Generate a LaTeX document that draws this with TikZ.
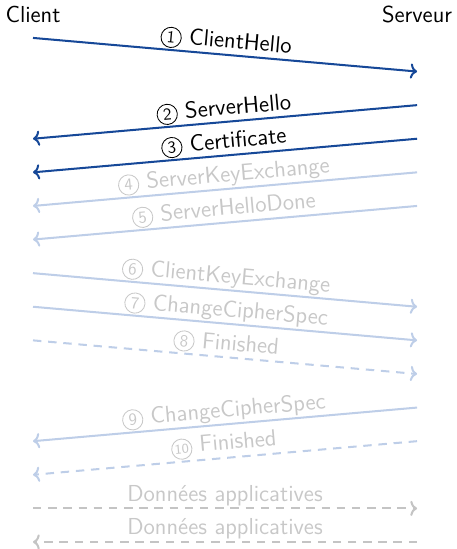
\documentclass[tikz,border=0pt]{standalone}
\usepackage{fontspec}
\usetikzlibrary{arrows.meta}
\renewcommand{\familydefault}{\sfdefault}
\definecolor{msgdark}{RGB}{22,72,152}
\definecolor{msglight}{RGB}{190,206,232}
\definecolor{txtlight}{RGB}{200,200,200}
\definecolor{datagray}{RGB}{196,196,196}
% step number in a thin circle, drawn in the current text colour
\newcommand{\circnum}[1]{\tikz[baseline=(num.base)]\node[circle,draw=.,line width=0.5pt,
  minimum size=12pt,inner sep=0pt,font=\sffamily\fontsize{10}{11}\selectfont] (num) {#1};}
\tikzset{
  msg/.style={line width=1.2pt,-{To[length=4pt,width=9pt]}},
  active/.style={msg,draw=msgdark},
  pending/.style={msg,draw=msglight},
  encrypted/.style={pending,dashed,dash pattern=on 5pt off 4pt},
  appdata/.style={msg,draw=datagray,dashed,dash pattern=on 5pt off 4pt},
  lbl/.style={font=\sffamily\fontsize{13.7}{15}\selectfont,above,sloped,inner sep=1pt,midway},
  lbllight/.style={lbl,text=txtlight},
  party/.style={font=\sffamily\fontsize{13.7}{15}\selectfont,inner sep=0pt}
}
\begin{document}
\begin{tikzpicture}
\useasboundingbox (-0.6875,0.79) rectangle (8.8125,-10.646);
\coordinate (c0) at (0,0);
\coordinate (s0) at (8,0);
\node[party] (client) at (0,0.48) {Client};
\node[party] (serveur) at (8,0.48) {Serveur};
% one row every 0.7 cm
\foreach \i in {1,...,15} {
  \coordinate (c\i) at (0,-0.7*\i);
  \coordinate (s\i) at (8,-0.7*\i);
}
\draw[active] (c0) -- node[lbl] {\circnum{1} ClientHello} (s1);
\draw[active] (s2) -- node[lbl] {\circnum{2} ServerHello} (c3);
\draw[active] (s3) -- node[lbl] {\circnum{3} Certificate} (c4);
\draw[pending] (s4) -- node[lbllight] {\circnum{4} ServerKeyExchange} (c5);
\draw[pending] (s5) -- node[lbllight] {\circnum{5} ServerHelloDone} (c6);
\draw[pending] (c7) -- node[lbllight] {\circnum{6} ClientKeyExchange} (s8);
\draw[pending] (c8) -- node[lbllight] {\circnum{7} ChangeCipherSpec} (s9);
\draw[encrypted] (c9) -- node[lbllight] {\circnum{8} Finished} (s10);
\draw[pending] (s11) -- node[lbllight] {\circnum{9} ChangeCipherSpec} (c12);
\draw[encrypted] (s12) -- node[lbllight] {\circnum{\fontsize{8}{9}\selectfont 10} Finished} (c13);
\draw[appdata] (c14) -- node[lbllight] {Données applicatives} (s14);
\draw[appdata] (s15) -- node[lbllight] {Données applicatives} (c15);
\end{tikzpicture}
\end{document}
